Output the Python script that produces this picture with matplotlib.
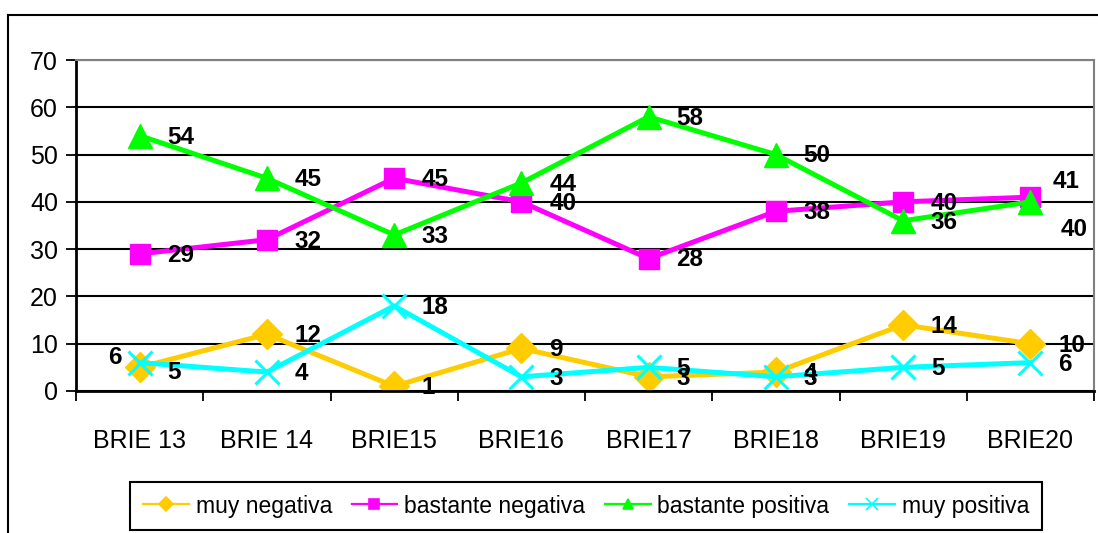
import matplotlib
matplotlib.use("Agg")
import matplotlib.pyplot as plt
from matplotlib.lines import Line2D

categories = ["BRIE 13", "BRIE 14", "BRIE15", "BRIE16", "BRIE17", "BRIE18", "BRIE19", "BRIE20"]
muy_negativa = [5, 12, 1, 9, 3, 4, 14, 10]
bastante_negativa = [29, 32, 45, 40, 28, 38, 40, 41]
bastante_positiva = [54, 45, 33, 44, 58, 50, 36, 40]
muy_positiva = [6, 4, 18, 3, 5, 3, 5, 6]
series_names = ["muy negativa", "bastante negativa", "bastante positiva", "muy positiva"]
y_ticks = [0, 10, 20, 30, 40, 50, 60, 70]

plt.rcParams["font.family"] = ["Liberation Sans", "DejaVu Sans"]

fig = plt.figure(figsize=(10.98, 5.33), dpi=100)
ax = fig.add_axes([76 / 1098, 142 / 533, 1018 / 1098, 331 / 533])

# outer chart frame (right/bottom edges fall outside the image)
fig.add_artist(Line2D([8 / 1098, 1.0], [1 - 15 / 533] * 2, color="black", lw=1.5, transform=fig.transFigure))
fig.add_artist(Line2D([8 / 1098] * 2, [0, 1 - 15 / 533], color="black", lw=1.5, transform=fig.transFigure))

x = list(range(len(categories)))
styles = [
    (muy_negativa, "#FFCC00", "D", 15),
    (bastante_negativa, "#FF00FF", "s", 15),
    (bastante_positiva, "#00FF00", "^", 17),
    (muy_positiva, "#00FFFF", "x", 17),
]
for (vals, col, mk, ms), name in zip(styles, series_names):
    ax.plot(x, vals, color=col, lw=3.6, marker=mk, ms=ms, mec=col, mfc=col,
            mew=2.2 if mk == "x" else 1, label=name, zorder=3)

# data labels: default to the right of the point, a few moved (offsets in points)
special = {
    (0, 0): (20, -3.5),
    (1, 7): (16, 11),
    (2, 7): (22, -20),
    (3, 0): (-13, 4),
}
for si, (vals, col, mk, ms) in enumerate(styles):
    for i, v in enumerate(vals):
        dx, dy = special.get((si, i), (20, -1))
        ax.annotate(str(v), (i, v), xytext=(dx, dy), textcoords="offset points",
                    ha="right" if dx < 0 else "left", va="center",
                    fontsize=17.5, fontweight="bold", color="black", zorder=5)

ax.set_xlim(-0.5, len(categories) - 0.5)
ax.set_ylim(0, 70)
ax.set_yticks(y_ticks)
ax.set_yticklabels([str(t) for t in y_ticks], fontsize=18)
ax.yaxis.grid(True, color="black", lw=1.5)
ax.set_axisbelow(True)

ax.set_xticks(x)
ax.set_xticklabels(categories, fontsize=18)
ax.set_xticks([i - 0.5 for i in range(len(categories) + 1)], minor=True)
ax.tick_params(axis="x", which="major", length=0, pad=27)
ax.tick_params(axis="x", which="minor", length=7, width=1.3, direction="out")
ax.tick_params(axis="y", length=7, width=1.3, direction="out", pad=6)

for side in ("left", "bottom"):
    ax.spines[side].set_color("black")
    ax.spines[side].set_linewidth(2)
for side in ("top", "right"):
    ax.spines[side].set_color("#808080")
    ax.spines[side].set_linewidth(1.5)
ax.spines["bottom"].set_zorder(4)

handles = [Line2D([], [], color=col, lw=1.6, marker=mk, ms=7 if mk != "x" else 8,
                  mec=col, mfc=col, mew=1.2) for _, col, mk, _ in styles]
leg = fig.legend(handles, series_names, loc="center",
                 bbox_to_anchor=(586 / 1098, 27 / 533),
                 ncol=4, fancybox=False, framealpha=1,
                 edgecolor="black", handlelength=2.0, handletextpad=0.3,
                 columnspacing=0.85, borderpad=0.55, borderaxespad=0,
                 prop={"size": 16.5})
leg.get_frame().set_linewidth(1.5)

fig.savefig("out.png", dpi=100)
